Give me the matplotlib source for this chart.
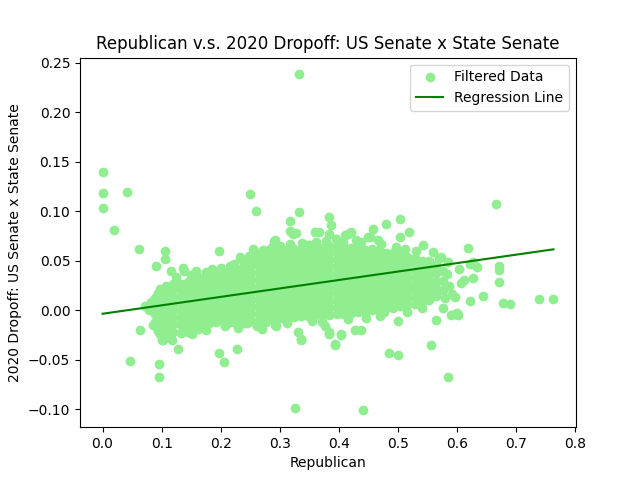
import numpy as np
import matplotlib
matplotlib.use("Agg")
import matplotlib.pyplot as plt

# Dense cloud, read column by column: (Republican share, [dropoff values])
cloud_left = [
    (0.088, [-0.012, -0.004, 0.004, 0.012]),
    (0.098, [-0.024, -0.016, -0.008, 0.000, 0.007, 0.014, 0.021]),
    (0.108, [-0.025, -0.017, -0.009, -0.002, 0.005, 0.012, 0.019, 0.025]),
    (0.120, [-0.022, -0.014, -0.007, 0.000, 0.007, 0.014, 0.021, 0.027]),
    (0.132, [-0.023, -0.015, -0.008, -0.001, 0.006, 0.013, 0.020, 0.027]),
    (0.144, [-0.019, -0.012, -0.005, 0.002, 0.009, 0.016, 0.023, 0.029]),
    (0.156, [-0.017, -0.010, -0.003, 0.004, 0.011, 0.018, 0.025, 0.031]),
    (0.168, [-0.015, -0.008, -0.001, 0.006, 0.013, 0.020, 0.027, 0.033]),
    (0.180, [-0.013, -0.006, 0.001, 0.008, 0.015, 0.022, 0.029, 0.034]),
    (0.192, [-0.012, -0.005, 0.002, 0.009, 0.016, 0.023, 0.030, 0.036]),
    (0.204, [-0.011, -0.004, 0.003, 0.010, 0.017, 0.024, 0.031, 0.037]),
    (0.216, [-0.012, -0.005, 0.002, 0.009, 0.016, 0.023, 0.030, 0.037, 0.041]),
    (0.228, [-0.014, -0.007, 0.000, 0.007, 0.014, 0.021, 0.028, 0.035, 0.042]),
    (0.240, [-0.013, -0.006, 0.001, 0.008, 0.015, 0.022, 0.029, 0.036, 0.044]),
]
cloud_mid = [
    (0.252, [-0.011, -0.004, 0.003, 0.010, 0.017, 0.024, 0.031, 0.038, 0.045, 0.050]),
    (0.264, [-0.010, -0.003, 0.004, 0.011, 0.018, 0.025, 0.032, 0.039, 0.046, 0.053]),
    (0.276, [-0.011, -0.004, 0.003, 0.010, 0.017, 0.024, 0.031, 0.038, 0.045, 0.052, 0.056]),
    (0.288, [-0.009, -0.002, 0.005, 0.012, 0.019, 0.026, 0.033, 0.040, 0.047, 0.054, 0.058]),
    (0.300, [-0.008, -0.001, 0.006, 0.013, 0.020, 0.027, 0.034, 0.041, 0.048, 0.055, 0.059]),
    (0.312, [-0.008, -0.001, 0.006, 0.013, 0.020, 0.027, 0.034, 0.041, 0.048, 0.055, 0.061]),
    (0.324, [-0.007, 0.000, 0.007, 0.014, 0.021, 0.028, 0.035, 0.042, 0.049, 0.056, 0.062]),
    (0.336, [-0.006, 0.001, 0.008, 0.015, 0.022, 0.029, 0.036, 0.043, 0.050, 0.057, 0.061]),
    (0.348, [-0.006, 0.001, 0.008, 0.015, 0.022, 0.029, 0.036, 0.043, 0.050, 0.057, 0.062]),
    (0.360, [-0.005, 0.002, 0.009, 0.016, 0.023, 0.030, 0.037, 0.044, 0.051, 0.058, 0.063]),
    (0.372, [-0.006, 0.001, 0.008, 0.015, 0.022, 0.029, 0.036, 0.043, 0.050, 0.057, 0.063]),
    (0.384, [-0.005, 0.002, 0.009, 0.016, 0.023, 0.030, 0.037, 0.044, 0.051, 0.058, 0.065]),
    (0.396, [-0.004, 0.003, 0.010, 0.017, 0.024, 0.031, 0.038, 0.045, 0.052, 0.059, 0.065]),
    (0.408, [-0.004, 0.003, 0.010, 0.017, 0.024, 0.031, 0.038, 0.045, 0.052, 0.059, 0.064]),
]
cloud_right = [
    (0.420, [-0.003, 0.004, 0.011, 0.018, 0.025, 0.032, 0.039, 0.046, 0.053, 0.060, 0.063]),
    (0.432, [-0.002, 0.005, 0.012, 0.019, 0.026, 0.033, 0.040, 0.047, 0.054, 0.061, 0.064]),
    (0.444, [-0.002, 0.005, 0.012, 0.019, 0.026, 0.033, 0.040, 0.047, 0.054, 0.061]),
    (0.456, [0.000, 0.007, 0.014, 0.021, 0.028, 0.035, 0.042, 0.049, 0.056, 0.062]),
    (0.468, [0.000, 0.007, 0.014, 0.021, 0.028, 0.035, 0.042, 0.049, 0.056, 0.061]),
    (0.480, [0.002, 0.009, 0.016, 0.023, 0.030, 0.037, 0.044, 0.051, 0.058]),
    (0.492, [0.002, 0.009, 0.016, 0.023, 0.030, 0.037, 0.044, 0.051, 0.058]),
    (0.504, [0.004, 0.011, 0.018, 0.025, 0.032, 0.039, 0.046, 0.053, 0.057]),
    (0.516, [0.005, 0.012, 0.019, 0.026, 0.033, 0.040, 0.047, 0.054]),
    (0.528, [0.006, 0.013, 0.020, 0.027, 0.034, 0.041, 0.048, 0.053]),
    (0.540, [0.008, 0.015, 0.022, 0.029, 0.036, 0.043, 0.050]),
    (0.552, [0.010, 0.017, 0.024, 0.031, 0.038, 0.045, 0.050]),
    (0.564, [0.014, 0.022, 0.030, 0.038, 0.046]),
    (0.576, [0.020, 0.030, 0.040]),
]

# Ragged points along the rim of the cloud
edge_x = [
    0.082, 0.085, 0.093, 0.093, 0.079,
    0.586, 0.583, 0.592, 0.570, 0.580,
    0.125, 0.150, 0.175, 0.186, 0.200, 0.222, 0.238, 0.247, 0.262, 0.272,
    0.283, 0.300, 0.318, 0.338, 0.362, 0.378, 0.395, 0.437, 0.472, 0.496,
    0.512, 0.530,
    0.118, 0.152, 0.175, 0.208, 0.262, 0.312, 0.355, 0.372, 0.415, 0.446,
    0.470, 0.515, 0.540,
]
edge_y = [
    0.008, -0.015, 0.017, -0.021, 0.000,
    0.025, 0.037, 0.016, 0.053, 0.012,
    0.034, 0.036, 0.039, 0.042, 0.043, 0.047, 0.050, 0.055, 0.058, 0.061,
    0.062, 0.065, 0.067, 0.068, 0.069, 0.070, 0.072, 0.069, 0.067, 0.064,
    0.062, 0.060,
    -0.030, -0.024, -0.020, -0.016, -0.016, -0.013, -0.011, -0.012, -0.009, -0.008,
    -0.006, -0.002, 0.002,
]

# Scattered points outside the dense cloud
outlier_x = [
    0.332, 0.000, 0.000, 0.042, 0.000, 0.020, 0.061, 0.106, 0.105, 0.197,
    0.249, 0.259, 0.332, 0.318, 0.317, 0.327, 0.360, 0.367, 0.384, 0.386,
    0.290, 0.288, 0.349, 0.254, 0.256, 0.666, 0.619, 0.503, 0.480, 0.458,
    0.519, 0.420, 0.410, 0.449, 0.322, 0.384, 0.415, 0.291, 0.345, 0.407,
    0.429, 0.452, 0.466, 0.503, 0.542, 0.559, 0.573, 0.585, 0.091, 0.115,
    0.136, 0.138, 0.158, 0.215, 0.232,
    0.671, 0.671, 0.671, 0.739, 0.763, 0.677, 0.690, 0.644, 0.622, 0.596,
    0.596, 0.602, 0.576, 0.564, 0.500, 0.556, 0.485, 0.500, 0.584, 0.440,
    0.393, 0.403, 0.383, 0.376, 0.427, 0.437, 0.627, 0.607, 0.612, 0.603,
    0.633, 0.621, 0.627, 0.477, 0.599, 0.590,
    0.325, 0.047, 0.095, 0.095, 0.127, 0.197, 0.205, 0.227, 0.064, 0.103,
    0.071, 0.330, 0.335, 0.270, 0.293, 0.230, 0.245, 0.144, 0.161, 0.277,
    0.291, 0.336, 0.384, 0.404, 0.393, 0.101,
]
outlier_y = [
    0.238, 0.140, 0.118, 0.119, 0.103, 0.081, 0.062, 0.060, 0.052, 0.060,
    0.117, 0.100, 0.099, 0.090, 0.080, 0.078, 0.079, 0.079, 0.094, 0.086,
    0.070, 0.065, 0.066, 0.062, 0.060, 0.107, 0.063, 0.092, 0.087, 0.082,
    0.079, 0.079, 0.076, 0.074, 0.077, 0.077, 0.077, 0.071, 0.066, 0.069,
    0.071, 0.074, 0.071, 0.074, 0.066, 0.059, 0.054, 0.049, 0.045, 0.040,
    0.043, 0.040, 0.040, 0.045, 0.054,
    0.045, 0.041, 0.029, 0.011, 0.011, 0.007, 0.006, 0.014, 0.009, 0.013,
    -0.004, -0.005, 0.002, -0.010, -0.011, -0.035, -0.043, -0.045, -0.067, -0.101,
    -0.035, -0.025, -0.024, -0.016, -0.020, -0.020, 0.033, 0.028, 0.031, 0.042,
    0.044, 0.047, 0.049, -0.002, -0.003, -0.005,
    -0.099, -0.051, -0.054, -0.067, -0.039, -0.043, -0.052, -0.039, -0.020, -0.030,
    0.004, -0.022, -0.030, -0.019, -0.016, -0.018, -0.013, -0.022, -0.019, -0.012,
    -0.015, -0.029, -0.022, -0.024, -0.034, -0.030,
]

# Regression line
reg_intercept = -0.0035
reg_slope = 0.0852

xs, ys = [], []
for group in (cloud_left, cloud_mid, cloud_right):
    for cx, cys in group:
        for cy in cys:
            xs.append(cx)
            ys.append(cy)
xs.extend(edge_x)
ys.extend(edge_y)
xs.extend(outlier_x)
ys.extend(outlier_y)
xs = np.array(xs)
ys = np.array(ys)

fig, ax = plt.subplots(figsize=(6.4, 4.8), dpi=100)
ax.scatter(xs, ys, color="lightgreen", label="Filtered Data")
line_x = np.array([xs.min(), xs.max()])
ax.plot(line_x, reg_intercept + reg_slope * line_x, color="green", label="Regression Line")
ax.set_title("Republican v.s. 2020 Dropoff: US Senate x State Senate")
ax.set_xlabel("Republican")
ax.set_ylabel("2020 Dropoff: US Senate x State Senate")
ax.legend(loc="upper right")
fig.savefig("out.png")
